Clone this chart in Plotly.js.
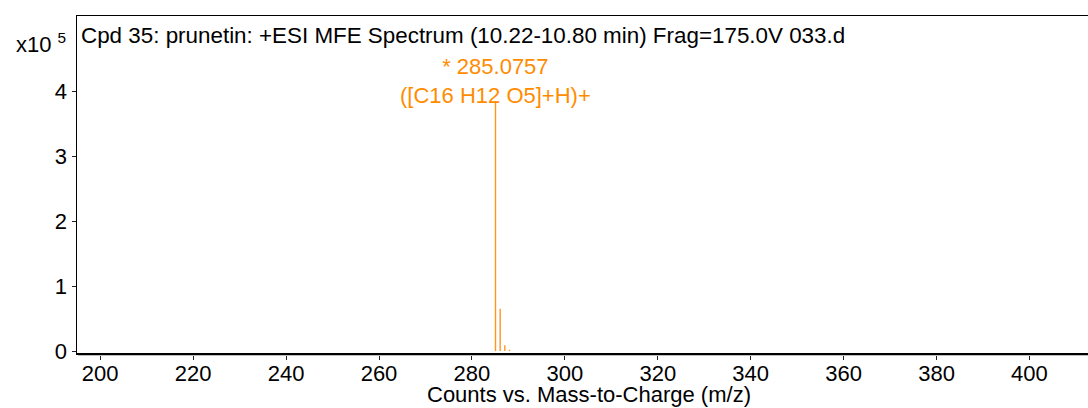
<!DOCTYPE html>
<html>
<head>
<meta charset="utf-8">
<script src="https://cdn.plot.ly/plotly-3.0.1.min.js"></script>
<style>
html,body{margin:0;padding:0;background:#fff;overflow:hidden;}
#chart{width:1088px;height:408px;}
</style>
</head>
<body>
<div id="chart"></div>
<script>
// Data
const mz = [285.0757, 286.08, 287.08, 288.08];
const counts = [385000, 65000, 9000, 2000];
const peakLabel = "* 285.0757<br>([C16 H12 O5]+H)+";
const titleText = "Cpd 35: prunetin: +ESI MFE Spectrum (10.22-10.80 min) Frag=175.0V 033.d";
const xTitle = "Counts vs. Mass-to-Charge (m/z)";
const yTickVals = [0, 100000, 200000, 300000, 400000];
const yTickText = ["0", "1", "2", "3", "4"];
const xTickVals = [200, 220, 240, 260, 280, 300, 320, 340, 360, 380, 400];

const fontFam = "Liberation Sans, Arial, Helvetica, sans-serif";
const orange = "#FF8C00";

const trace = {
  type: "bar",
  x: mz,
  y: counts,
  width: 0.3,
  marker: {color: "rgb(255,150,30)", line: {width: 0}},
  hoverinfo: "x+y"
};

const layout = {
  width: 1088,
  height: 408,
  margin: {l: 77, r: 0, t: 16, b: 55, pad: 0},
  paper_bgcolor: "#fff",
  plot_bgcolor: "#fff",
  showlegend: false,
  font: {family: fontFam, size: 22, color: "#000"},
  xaxis: {
    range: [195, 412.6],
    tickvals: xTickVals,
    ticks: "outside",
    ticklen: 5,
    tickwidth: 1,
    tickcolor: "#222",
    ticklabelstandoff: -5,
    showline: true,
    linecolor: "#000",
    linewidth: 1.5,
    mirror: true,
    showgrid: false,
    zeroline: false,
    tickfont: {family: fontFam, size: 22, color: "#000"}
  },
  yaxis: {
    range: [-3000, 516000],
    tickvals: yTickVals,
    ticktext: yTickText,
    ticks: "outside",
    ticklen: 4,
    tickwidth: 1,
    tickcolor: "#222",
    showline: true,
    linecolor: "#000",
    linewidth: 1.5,
    showgrid: false,
    zeroline: false,
    tickfont: {family: fontFam, size: 22, color: "#000"}
  },
  shapes: [
    {type: "line", xref: "paper", yref: "paper", x0: 0.001, x1: 1, y0: -0.0075, y1: -0.0075,
     line: {color: "#bbb", width: 1}}
  ],
  annotations: [
    {text: titleText, xref: "paper", yref: "paper", x: 0, y: 1, xanchor: "left", yanchor: "top",
     xshift: 2, yshift: -5, showarrow: false, font: {family: fontFam, size: 22.4, color: "#000"}},
    {text: "x10 <sup>5</sup>", xref: "paper", yref: "paper", x: 0, y: 1, xanchor: "right", yanchor: "middle",
     xshift: -9, yshift: -27, showarrow: false, font: {family: fontFam, size: 22, color: "#000"}},
    {text: peakLabel, xref: "x", yref: "y", x: mz[0], y: counts[0], xanchor: "center", yanchor: "bottom",
     yshift: -9, showarrow: false, font: {family: fontFam, size: 22, color: orange}},
    {text: xTitle, xref: "paper", yref: "paper", x: 0.5, y: 0, xanchor: "center", yanchor: "top",
     xshift: 6, yshift: -27, showarrow: false, font: {family: fontFam, size: 22, color: "#000"}}
  ]
};

Plotly.newPlot("chart", [trace], layout, {displayModeBar: false, staticPlot: true});
</script>
</body>
</html>
